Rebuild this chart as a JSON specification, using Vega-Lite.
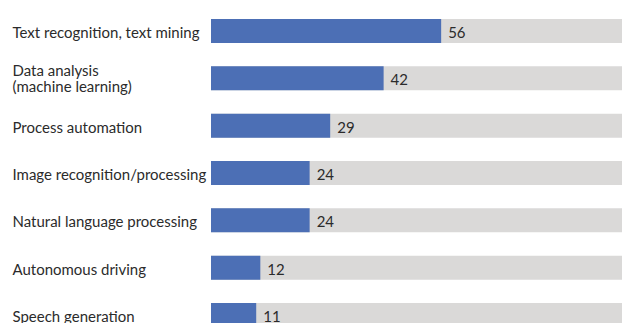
{
  "$schema": "https://vega.github.io/schema/vega-lite/v6.json",
  "autosize": "none",
  "padding": {"left": 211, "top": 7.33, "right": 0, "bottom": 0},
  "width": 411,
  "height": 331.3,
  "background": "white",
  "config": {"view": {"stroke": null}},
  "data": {
    "values": [
      {"label": "Text recognition, text mining", "value": 56, "total": 100},
      {"label": "Data analysis|(machine learning)", "value": 42, "total": 100},
      {"label": "Process automation", "value": 29, "total": 100},
      {"label": "Image recognition/processing", "value": 24, "total": 100},
      {"label": "Natural language processing", "value": 24, "total": 100},
      {"label": "Autonomous driving", "value": 12, "total": 100},
      {"label": "Speech generation", "value": 11, "total": 100}
    ]
  },
  "encoding": {
    "y": {
      "field": "label",
      "type": "nominal",
      "sort": null,
      "title": null,
      "scale": {"paddingInner": 0.493, "paddingOuter": 0.2465},
      "axis": {
        "domain": false,
        "ticks": false,
        "labelAlign": "left",
        "labelPadding": 199,
        "labelFont": "Lato",
        "labelFontSize": 15,
        "labelColor": "#2b2b2b",
        "labelLimit": 0,
        "labelLineHeight": 16,
        "labelBaseline": "middle",
        "labelOffset": {"expr": "indexof(datum.value, '|') >= 0 ? -7 : 2"},
        "labelExpr": "split(datum.label, '|')"
      }
    }
  },
  "layer": [
    {
      "mark": {"type": "bar", "color": "#dad9d8"},
      "encoding": {
        "x": {"field": "total", "type": "quantitative", "scale": {"domain": [0, 100], "nice": false}, "axis": null}
      }
    },
    {
      "mark": {"type": "bar", "color": "#4c6fb5"},
      "encoding": {
        "x": {"field": "value", "type": "quantitative"}
      }
    },
    {
      "mark": {"type": "text", "align": "left", "baseline": "middle", "dx": 7, "dy": 2, "font": "Lato", "fontSize": 15, "color": "#2b2b2b"},
      "encoding": {
        "x": {"field": "value", "type": "quantitative"},
        "text": {"field": "value", "type": "quantitative"}
      }
    }
  ]
}
